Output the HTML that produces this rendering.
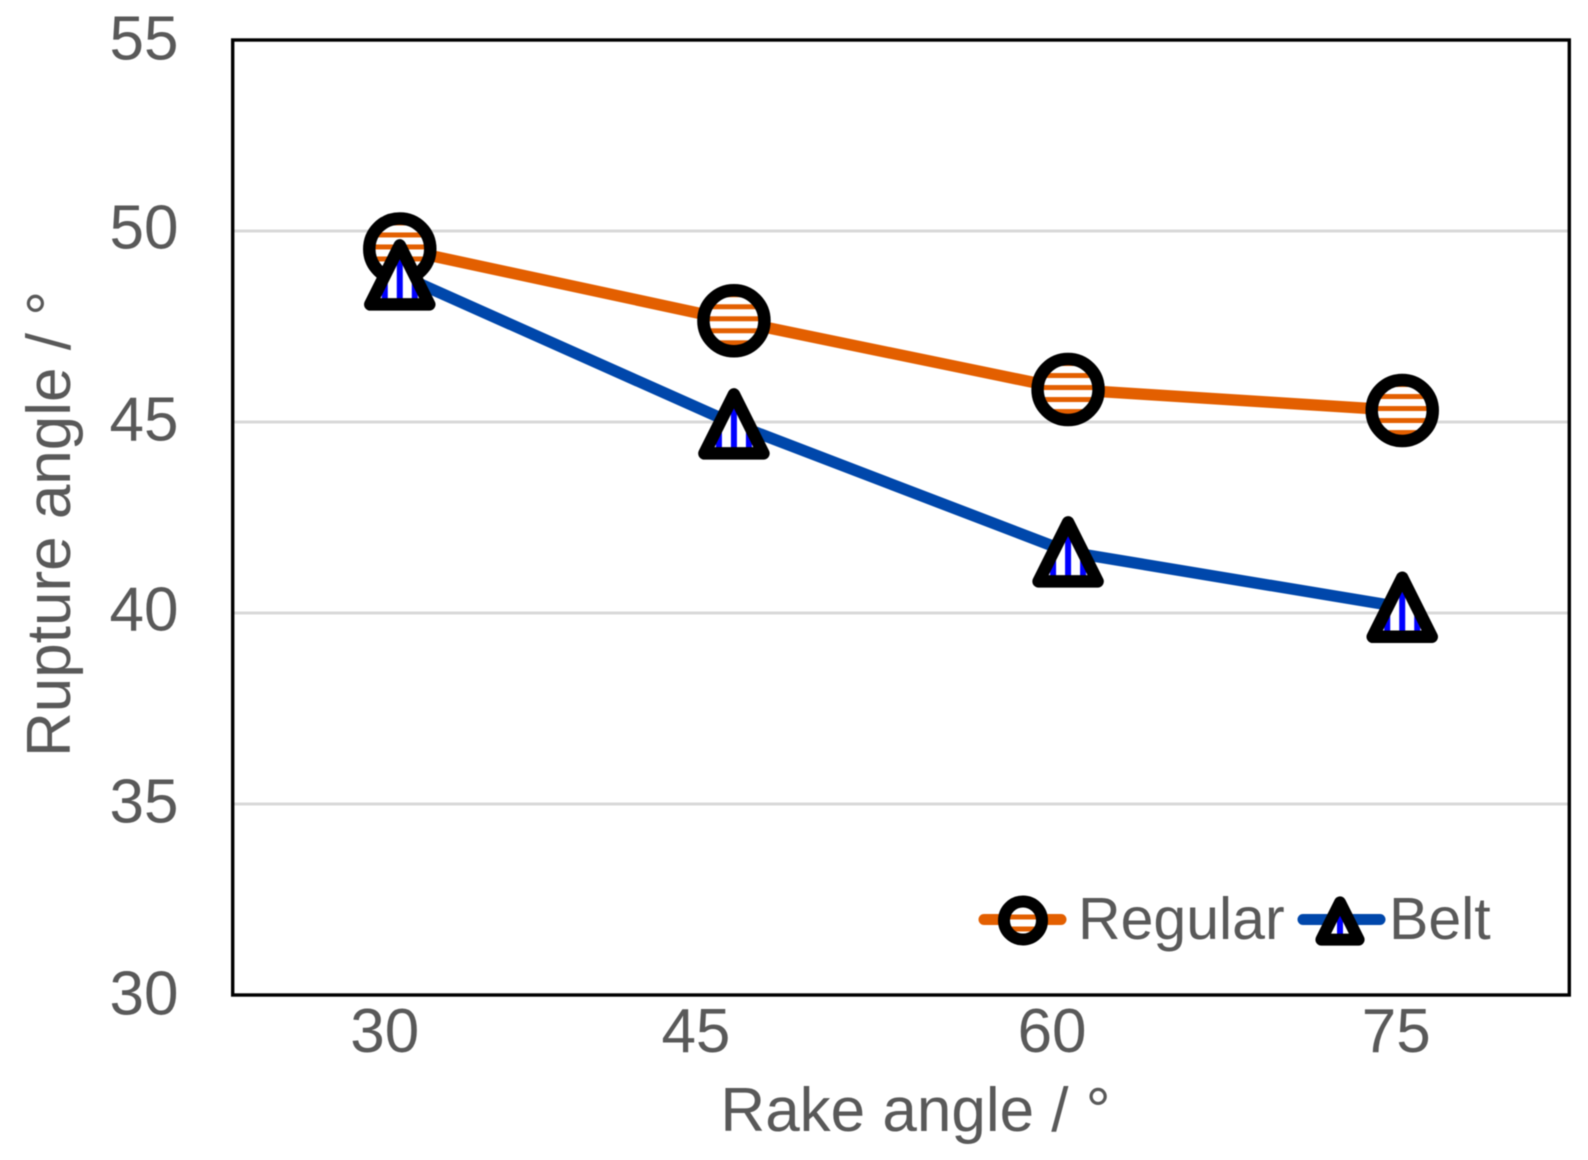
<!DOCTYPE html>
<html lang="en">
<head>
<meta charset="utf-8">
<title>Rupture angle vs rake angle</title>
<style>
html,body{margin:0;padding:0;background:#fff;}
body{width:1588px;height:1160px;overflow:hidden;}
svg{display:block;filter:blur(0.5px);}
text{font-family:"Liberation Sans",sans-serif;fill:#595959;}
</style>
</head>
<body>
<svg id="chart" xmlns="http://www.w3.org/2000/svg" width="1588" height="1160" viewBox="0 0 1588 1160">
  <defs id="defs"></defs>
  <rect x="0" y="0" width="1588" height="1160" fill="#fff"/>
  <g id="grid"></g>
  <g id="y-ticks"></g>
  <g id="x-ticks"></g>
  <g id="series"></g>
  <rect x="232.7" y="40" width="1336.6" height="955" fill="none" stroke="#000" stroke-width="3.4"/>
  <text x="915.5" y="1131" font-size="62" text-anchor="middle">Rake angle / °</text>
  <text transform="translate(70,524) rotate(-90)" font-size="62" text-anchor="middle">Rupture angle / °</text>
  <g id="legend"></g>
</svg>
<script>
const categories = ["30", "45", "60", "75"];
const regularValues = [49.53, 47.65, 45.85, 45.3];
const beltValues = [48.85, 44.95, 41.6, 40.15];
const yTickValues = [30, 35, 40, 45, 50, 55];
const gridValues = [35, 40, 45, 50];

const NS = "http://www.w3.org/2000/svg";
const plot = { left: 232.7, right: 1569.3, top: 40, bottom: 995 };
const yMin = 30, yMax = 55;
const ORANGE = "#e35f00", BLUE = "#0047ab";

function yScale(v) {
  return plot.bottom - (v - yMin) / (yMax - yMin) * (plot.bottom - plot.top);
}
function xScale(i) {
  return plot.left + (plot.right - plot.left) / categories.length * (i + 0.5);
}
function make(tag, attrs, parent) {
  const el = document.createElementNS(NS, tag);
  for (const k in attrs) el.setAttribute(k, attrs[k]);
  parent.appendChild(el);
  return el;
}

const defs = document.getElementById("defs");
const gridG = document.getElementById("grid");
const yG = document.getElementById("y-ticks");
const xG = document.getElementById("x-ticks");
const seriesG = document.getElementById("series");
const legendG = document.getElementById("legend");
let patternCount = 0;

function hStripePattern(stripeCenterY) {
  const id = "hs" + (patternCount++);
  const p = make("pattern", { id: id, patternUnits: "userSpaceOnUse", x: 0, y: stripeCenterY - 6, width: 12, height: 12 }, defs);
  make("rect", { x: 0, y: 0, width: 12, height: 12, fill: "#fff" }, p);
  make("rect", { x: 0, y: 3.5, width: 12, height: 5, fill: ORANGE }, p);
  return id;
}
function vStripePattern(cx) {
  const id = "vs" + (patternCount++);
  const p = make("pattern", { id: id, patternUnits: "userSpaceOnUse", x: cx - 7.5, y: 0, width: 15, height: 15 }, defs);
  make("rect", { x: 0, y: 0, width: 15, height: 15, fill: "#fff" }, p);
  make("rect", { x: 4.5, y: 0, width: 6, height: 15, fill: "#0000ff" }, p);
  return id;
}
function circleMarker(cx, cy, r, sw, stripeCenterY, parent) {
  return make("circle", { cx: cx, cy: cy, r: r, fill: "url(#" + hStripePattern(stripeCenterY) + ")", stroke: "#000", "stroke-width": sw }, parent);
}
function triangleMarker(cx, cy, scale, sw, parent) {
  const d = "M" + cx + " " + (cy - 29.5 * scale) +
    "L" + (cx + 29.5 * scale) + " " + (cy + 29.5 * scale) +
    "L" + (cx - 29.5 * scale) + " " + (cy + 29.5 * scale) + "Z";
  return make("path", { d: d, fill: "url(#" + vStripePattern(cx) + ")", stroke: "#000", "stroke-width": sw, "stroke-linejoin": "round" }, parent);
}

gridValues.forEach(function (v) {
  const y = yScale(v);
  const line = make("line", { x1: plot.left, x2: plot.right, y1: y, y2: y, stroke: "#d9d9d9", "stroke-width": 3 }, gridG);
  
  
});

const yLabelNudge = [1, 0, -1, 0, -1, 1];
yTickValues.forEach(function (v, i) {
  const t = make("text", { x: 178.5, y: yScale(v) + 18.5 + yLabelNudge[i], "font-size": 62, "text-anchor": "end" }, yG);
  t.textContent = String(v);
  
  
});

const xLabelNudge = [-15, -38, -16, -6];
categories.forEach(function (c, i) {
  const t = make("text", { x: xScale(i) + xLabelNudge[i], y: 1052, "font-size": 62, "text-anchor": "middle" }, xG);
  t.textContent = c;
  
  
});

function pointsOf(values) {
  return values.map(function (v, i) { return xScale(i) + "," + yScale(v); }).join(" ");
}
const regularLine = make("polyline", { points: pointsOf(regularValues), fill: "none", stroke: ORANGE, "stroke-width": 11.5, "stroke-linejoin": "round" }, seriesG);


const beltLine = make("polyline", { points: pointsOf(beltValues), fill: "none", stroke: BLUE, "stroke-width": 11.5, "stroke-linejoin": "round" }, seriesG);



regularValues.forEach(function (v, i) {
  const cy = yScale(v);
  const m = circleMarker(xScale(i), cy, 30.5, 12.5, cy - 2, seriesG);
  
  
});
beltValues.forEach(function (v, i) {
  const m = triangleMarker(xScale(i), yScale(v), 1, 12.5, seriesG);
  
  
});

const legendRegularLine = make("line", { x1: 984, x2: 1061, y1: 919.5, y2: 919.5, stroke: ORANGE, "stroke-width": 11, "stroke-linecap": "round" }, legendG);


const legendRegularMarker = circleMarker(1023, 920.5, 19, 12, 917, legendG);


const legendRegularText = make("text", { x: 1078, y: 939, "font-size": 59 }, legendG);
legendRegularText.textContent = "Regular";



const legendBeltLine = make("line", { x1: 1303, x2: 1380, y1: 919.5, y2: 919.5, stroke: BLUE, "stroke-width": 11, "stroke-linecap": "round" }, legendG);


const legendBeltMarker = triangleMarker(1340, 921, 0.63, 12, legendG);


const legendBeltText = make("text", { x: 1389, y: 939, "font-size": 59 }, legendG);
legendBeltText.textContent = "Belt";


</script>
</body>
</html>
